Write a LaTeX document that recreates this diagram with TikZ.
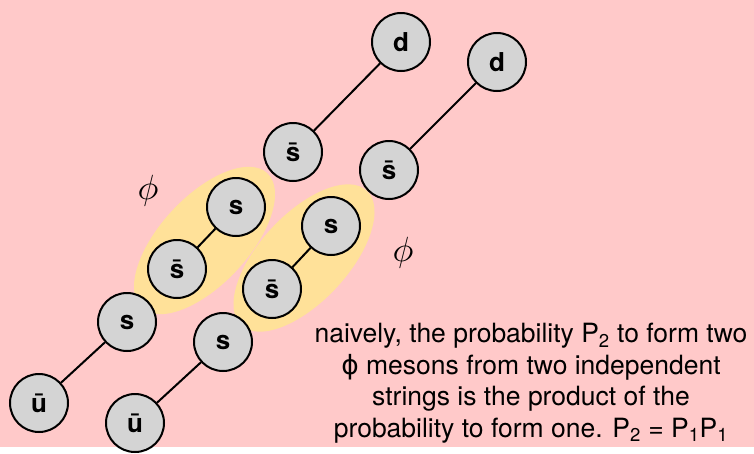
\documentclass[tikz,border=0pt]{standalone}
\usepackage{fontspec}
\setmainfont{TeX Gyre Heros}
\newfontfamily\phifont{DejaVu Sans}
\usepackage{xcolor}
\usepackage{tikz}
\definecolor{bgpink}{HTML}{FFC9C9}
\definecolor{blobyellow}{HTML}{FFE199}
\definecolor{quarkgray}{HTML}{D4D4D4}
\newcommand{\bigphi}{\scalebox{3.5}{$\phi$}}

\begin{document}
\begin{tikzpicture}[x=1pt,y=-1pt,
    qbox/.style={circle, draw, line width=2pt, fill=quarkgray, minimum size=58pt,
                 inner sep=0pt, font=\fontsize{26}{26}\selectfont\bfseries},
    blob/.style={fill=blobyellow},
    strline/.style={line width=2pt},
]
%% -- Background --
\fill[bgpink](0,0)rectangle(754,447);
%% -- phi blobs round the s sbar pairs --
\fill[blob,rotate around={47:(204.5,240.5)}](204.5,240.5)ellipse[x radius=92pt,y radius=44pt];
\fill[blob,rotate around={47:(304,258)}](304,258)ellipse[x radius=92pt,y radius=44pt];
%% -- String A --
\node[qbox](ubA)at(39,403){\=u};
\node[qbox](sA1)at(127,322){s};
\node[qbox](sbA1)at(177,269){\=s};
\node[qbox](sA2)at(236,207){s};
\node[qbox](sbA2)at(293,152){\=s};
\node[qbox](dA)at(401,42){d};
%% -- String B --
\node[qbox](ubB)at(135,423){\=u};
\node[qbox](sB1)at(223,342){s};
\node[qbox](sbB1)at(272,289){\=s};
\node[qbox](sB2)at(331,226){s};
\node[qbox](sbB2)at(389,170){\=s};
\node[qbox](dB)at(497,62){d};
%% -- String pieces --
\foreach \a/\b in {ubA/sA1,sbA1/sA2,sbA2/dA,ubB/sB1,sbB1/sB2,sbB2/dB}{
  \draw[strline](\a)--(\b);
}
%% -- phi labels --
\node(phiA)at(148,191){\bigphi};
\node(phiB)at(403,253){\bigphi};
%% -- Note --
\node[align=center,font=\fontsize{26.5}{31.5}\selectfont](note)at(531,383)
  {naively, the probability P\textsubscript{2} to form two\\
   {\phifont ϕ} mesons from two independent\\
   strings is the product of the\\
   probability to form one. P\textsubscript{2} = P\textsubscript{1}P\textsubscript{1}};
\end{tikzpicture}
\end{document}
